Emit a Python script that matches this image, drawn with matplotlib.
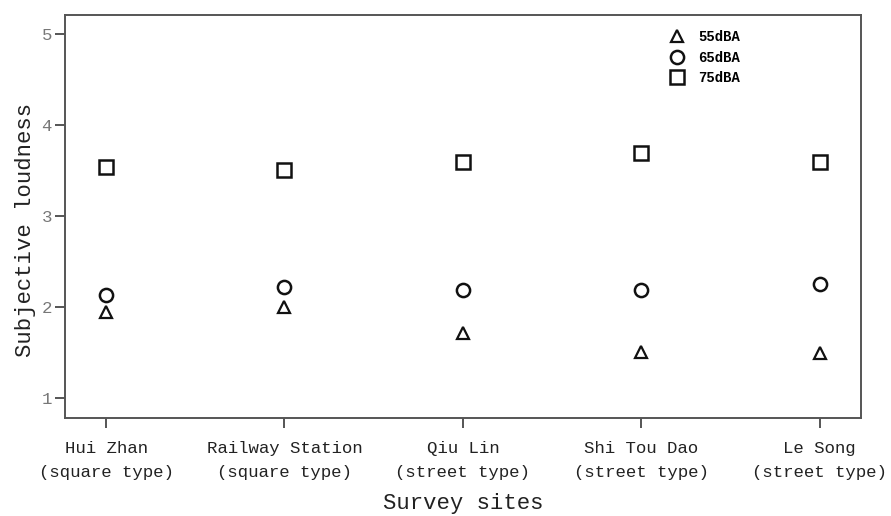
import matplotlib.pyplot as plt

sites = ["Hui Zhan\n(square type)", "Railway Station\n(square type)", "Qiu Lin\n(street type)",
         "Shi Tou Dao\n(street type)", "Le Song\n(street type)"]
loud_55 = [1.95, 2.00, 1.71, 1.50, 1.49]
loud_65 = [2.13, 2.22, 2.19, 2.19, 2.25]
loud_75 = [3.54, 3.51, 3.59, 3.69, 3.59]
y_ticks = [1, 2, 3, 4, 5]

mono = "Liberation Mono"
gray = "#555555"

fig = plt.figure(figsize=(8.91, 5.16), dpi=100)
ax = fig.add_axes([0.073, 0.19, 0.893, 0.781])

x = list(range(len(sites)))
ax.plot(x, loud_55, linestyle="none", marker="^", markersize=9, markerfacecolor="none",
        markeredgecolor="#111111", markeredgewidth=1.6, label="55dBA")
ax.plot(x, loud_65, linestyle="none", marker="o", markersize=9.5, markerfacecolor="none",
        markeredgecolor="#111111", markeredgewidth=1.8, label="65dBA")
ax.plot(x, loud_75, linestyle="none", marker="s", markersize=9.5, markerfacecolor="none",
        markeredgecolor="#111111", markeredgewidth=1.8, label="75dBA")

ax.set_xlim(-0.23, 4.23)
ax.set_ylim(0.78, 5.21)
ax.set_xticks(x)
ax.set_xticklabels(sites, fontfamily=mono, fontsize=12.5, color="#222222", linespacing=1.75)
ax.set_yticks(y_ticks)
ax.set_yticklabels([str(t) for t in y_ticks], fontfamily=mono, fontsize=12.5, color="#777777")
ax.tick_params(axis="both", direction="out", length=7.5, width=1.4, color=gray)
ax.tick_params(axis="x", pad=9)
ax.tick_params(axis="y", pad=2)

for s in ax.spines.values():
    s.set_color(gray)
    s.set_linewidth(1.4)

ax.set_xlabel("Survey sites", fontfamily=mono, fontsize=16, color="#222222")
ax.set_ylabel("Subjective loudness", fontfamily=mono, fontsize=16, color="#222222")
ax.yaxis.set_label_coords(-0.036, 0.466)
ax.xaxis.set_label_coords(0.5, -0.186)

leg = ax.legend(loc="upper left", bbox_to_anchor=(0.745, 0.993), frameon=False,
                prop={"family": mono, "size": 10, "weight": "bold"},
                handletextpad=1.0, labelspacing=0.45, handlelength=1.0, markerscale=1.0)

fig.savefig("out.png", dpi=100)
